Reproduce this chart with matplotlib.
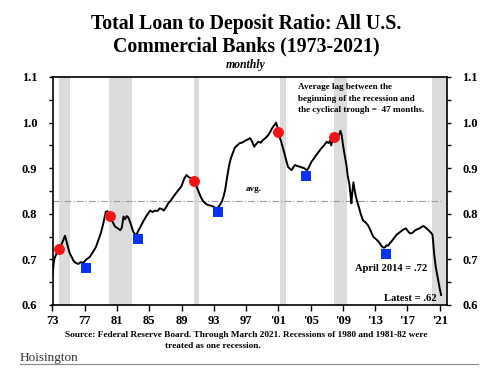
import matplotlib
matplotlib.use("Agg")
import matplotlib.pyplot as plt
from matplotlib.ticker import MultipleLocator, FixedLocator, FixedFormatter

plt.rcParams['font.family'] = ['Liberation Serif', 'DejaVu Serif']

# ---- data ----
years = [1973.0, 1973.2, 1973.5, 1973.8, 1974.1, 1974.55, 1974.8, 1975.1, 1975.6, 1975.9,
         1976.2, 1976.5, 1976.8, 1977.2, 1977.6, 1978.05, 1978.4, 1978.7, 1979.0, 1979.3,
         1979.6, 1979.8, 1980.1, 1980.4, 1980.75, 1981.1, 1981.4, 1981.6, 1981.8, 1982.0,
         1982.2, 1982.4, 1982.7, 1983.0, 1983.35, 1983.7, 1984.0, 1984.3, 1984.7, 1985.1,
         1985.4, 1985.7, 1986.0, 1986.3, 1986.6, 1986.8, 1987.1, 1987.35, 1987.7, 1988.0,
         1988.3, 1988.6, 1989.0, 1989.3, 1989.6, 1989.9, 1990.2, 1990.5, 1990.8, 1991.1,
         1991.4, 1991.7, 1992.0, 1992.3, 1992.6, 1992.9, 1993.2, 1993.4, 1993.7, 1994.0,
         1994.2, 1994.4, 1994.65, 1994.9, 1995.1, 1995.3, 1995.6, 1995.9, 1996.2, 1996.5,
         1996.85, 1997.2, 1997.5, 1997.75, 1998.0, 1998.2, 1998.5, 1998.8, 1999.1, 1999.4,
         1999.75, 2000.0, 2000.2, 2000.45, 2000.6, 2000.7, 2000.85, 2001.0, 2001.2, 2001.4,
         2001.6, 2001.8, 2002.0, 2002.2, 2002.45, 2002.65, 2002.85, 2003.05, 2003.3, 2003.7,
         2004.0, 2004.2, 2004.4, 2004.6, 2004.85, 2005.1, 2005.4, 2005.7, 2006.0, 2006.35,
         2006.7, 2007.0, 2007.2, 2007.4, 2007.55, 2007.7, 2007.9, 2008.2, 2008.4, 2008.55,
         2008.7, 2008.85, 2009.0, 2009.2, 2009.45, 2009.6, 2009.8, 2009.95, 2010.05, 2010.15,
         2010.3, 2010.45, 2010.6, 2010.8, 2011.0, 2011.2, 2011.5, 2011.7, 2011.9, 2012.1,
         2012.3, 2012.5, 2012.75, 2013.0, 2013.25, 2013.5, 2013.8, 2014.0, 2014.2, 2014.4,
         2014.6, 2014.8, 2015.0, 2015.3, 2015.65, 2016.0, 2016.3, 2016.55, 2016.8, 2017.05,
         2017.3, 2017.6, 2017.9, 2018.2, 2018.5, 2018.8, 2019.0, 2019.3, 2019.6, 2019.9,
         2020.1, 2020.2, 2020.3, 2020.5, 2020.8, 2021.0, 2021.17]
ratio = [0.665, 0.700, 0.713, 0.722, 0.732, 0.752, 0.735, 0.715, 0.697, 0.692,
         0.690, 0.694, 0.692, 0.700, 0.705, 0.717, 0.728, 0.743, 0.758, 0.779,
         0.804, 0.806, 0.795, 0.784, 0.772, 0.768, 0.764, 0.770, 0.794, 0.788,
         0.795, 0.792, 0.778, 0.761, 0.752, 0.765, 0.775, 0.785, 0.797, 0.807,
         0.804, 0.807, 0.806, 0.812, 0.810, 0.807, 0.815, 0.823, 0.830, 0.838,
         0.845, 0.852, 0.861, 0.876, 0.885, 0.880, 0.878, 0.873, 0.862, 0.849,
         0.836, 0.827, 0.822, 0.819, 0.818, 0.816, 0.813, 0.812, 0.818, 0.827,
         0.838, 0.852, 0.881, 0.907, 0.921, 0.931, 0.945, 0.950, 0.955, 0.956,
         0.960, 0.963, 0.966, 0.958, 0.947, 0.952, 0.958, 0.956, 0.962, 0.966,
         0.973, 0.980, 0.987, 0.993, 0.997, 1.000, 0.992, 0.979, 0.966, 0.955,
         0.942, 0.929, 0.915, 0.903, 0.898, 0.896, 0.902, 0.907, 0.905, 0.903,
         0.901, 0.900, 0.897, 0.896, 0.905, 0.914, 0.921, 0.929, 0.936, 0.944,
         0.951, 0.958, 0.955, 0.960, 0.950, 0.962, 0.968, 0.972, 0.969, 0.975,
         0.982, 0.972, 0.952, 0.930, 0.905, 0.882, 0.865, 0.840, 0.823, 0.845,
         0.869, 0.852, 0.838, 0.825, 0.813, 0.800, 0.785, 0.783, 0.779, 0.775,
         0.768, 0.760, 0.750, 0.746, 0.742, 0.737, 0.729, 0.726, 0.726, 0.731,
         0.730, 0.735, 0.739, 0.746, 0.754, 0.759, 0.763, 0.766, 0.768, 0.762,
         0.757, 0.758, 0.763, 0.766, 0.768, 0.772, 0.773, 0.769, 0.764, 0.759,
         0.754, 0.735, 0.713, 0.684, 0.655, 0.636, 0.622]

peak_years = [1973.8, 1980.1, 1990.5, 2001.0, 2007.9]
peak_vals = [0.722, 0.795, 0.873, 0.979, 0.968]
trough_years = [1977.1, 1983.55, 1993.5, 2004.4, 2014.3]
trough_vals = [0.682, 0.745, 0.805, 0.882, 0.7125]

recession_start = [1973.85, 1980.0, 1990.5, 2001.2, 2007.9, 2020.1]
recession_end = [1975.2, 1982.9, 1991.2, 2001.9, 2009.45, 2022.5]

avg_value = 0.828

x_ticks = [1973, 1977, 1981, 1985, 1989, 1993, 1997, 2001, 2005, 2009, 2013, 2017, 2021]
x_labels = ["73", "77", "81", "85", "89", "93", "97", "'01", "'05", "'09", "'13", "'17", "'21"]
y_ticks = [0.6, 0.7, 0.8, 0.9, 1.0, 1.1]
y_labels = ["0.6", "0.7", "0.8", "0.9", "1.0", "1.1"]

# ---- figure ----
fig = plt.figure(figsize=(5.0, 3.68), dpi=100)
ax = fig.add_axes([0.105, 0.1712, 0.789, 0.6196])

for s, e in zip(recession_start, recession_end):
    ax.axvspan(s, e, color='#dcdcdc', lw=0, zorder=0)

ax.plot([1973.0, 2021.2], [avg_value, avg_value], color='#9a9a9a', lw=0.8,
        ls=(0, (6, 2, 1, 2)), zorder=1)
ax.plot(years, ratio, color='black', lw=1.4, zorder=2)
ax.scatter(peak_years, peak_vals, s=62, color='#f01414', marker='o', zorder=3, lw=0)
ax.scatter(trough_years, trough_vals, s=44, color='#0a32f5', marker='s', zorder=3, lw=0)

ax.set_xlim(1973.0, 2021.9)
ax.set_ylim(0.6, 1.1)

ax.xaxis.set_major_locator(FixedLocator(x_ticks))
ax.xaxis.set_major_formatter(FixedFormatter(x_labels))
ax.yaxis.set_major_locator(FixedLocator(y_ticks))
ax.yaxis.set_major_formatter(FixedFormatter(y_labels))
ax.yaxis.set_minor_locator(MultipleLocator(0.05))

ax.tick_params(axis='x', direction='out', length=4, width=1, pad=3,
               labelsize=9)
ax.tick_params(axis='y', which='both', direction='out', length=3, width=1, pad=8,
               labelsize=9, left=True, right=True, labelleft=True, labelright=True)
for lab in ax.get_xticklabels() + ax.get_yticklabels():
    lab.set_fontweight('bold')
for sp in ax.spines.values():
    sp.set_linewidth(1.2)

ax.text(0.622, 0.975, "Average lag between the\nbeginning of the recession and\nthe cyclical trough =  47 months.",
        transform=ax.transAxes, ha='left', va='top', linespacing=1.65,
        fontsize=6.6, fontweight='bold')
ax.text(1997.97, 0.855, "avg.", ha='center', va='center', fontsize=6.6, fontweight='bold')
ax.text(2014.95, 0.679, "April 2014 = .72", ha='center', va='center', fontsize=7.6, fontweight='bold')
ax.text(2020.6, 0.615, "Latest = .62", ha='right', va='center', fontsize=7.6, fontweight='bold')

# titles
fig.text(0.492, 0.935, "Total Loan to Deposit Ratio: All U.S.", ha='center', va='center',
         fontsize=14.3, fontweight='bold')
fig.text(0.492, 0.873, "Commercial Banks (1973-2021)", ha='center', va='center',
         fontsize=14.3, fontweight='bold')
fig.text(0.492, 0.824, "monthly", ha='center', va='center', fontsize=8.5,
         fontweight='bold', style='italic')

fig.text(0.493, 0.090, "Source: Federal Reserve Board. Through March 2021. Recessions of 1980 and 1981-82 were",
         ha='center', va='center', fontsize=6.65, fontweight='bold')
fig.text(0.425, 0.060, "treated as one recession.", ha='center', va='center',
         fontsize=6.65, fontweight='bold')

fig.text(0.04, 0.028, "Hoisington", ha='left', va='center', fontsize=9.5, color='#333333')
fig.add_artist(plt.Line2D([0.04, 0.955], [0.012, 0.012], transform=fig.transFigure,
                          color='#888888', lw=0.8))

fig.savefig("out.png", dpi=100)
